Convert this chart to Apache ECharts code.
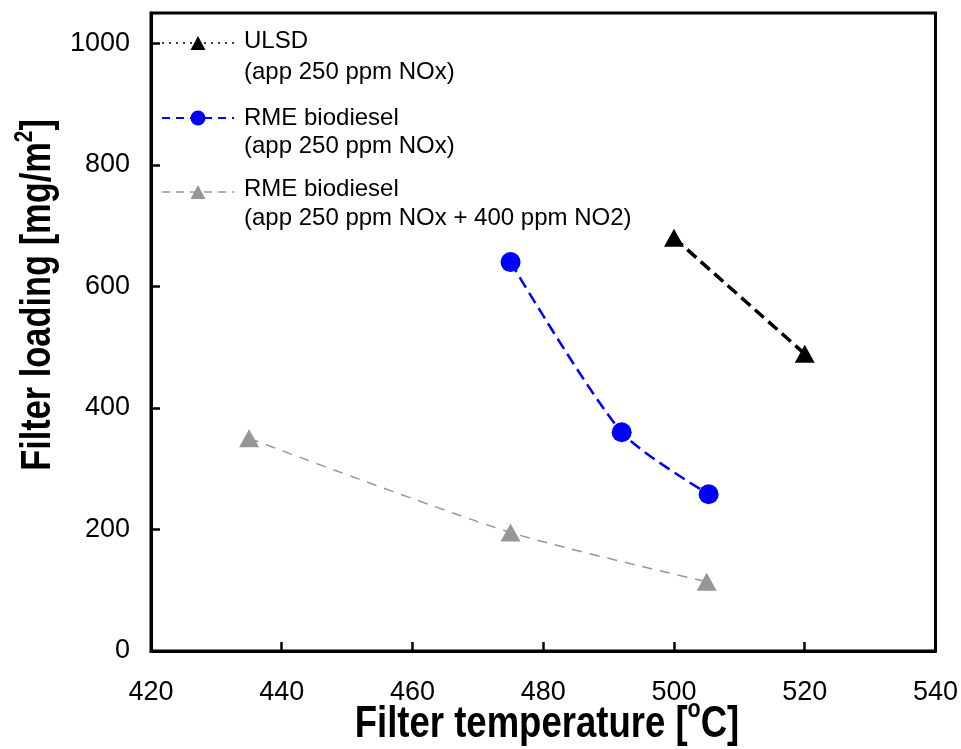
<!DOCTYPE html>
<html>
<head>
<meta charset="utf-8">
<script src="https://cdn.jsdelivr.net/npm/echarts@6/dist/echarts.min.js"></script>
<style>
html,body{margin:0;padding:0;background:#fff;}
#chart{width:961px;height:749px;}
</style>
</head>
<body>
<div id="chart"></div>
<script>
// Data
const ulsdX = [500, 520];
const ulsdY = [680, 489];
const rmeX = [475, 492, 505.3];
const rmeY = [640, 360, 258];
const rmeNo2X = [435, 475, 505];
const rmeNo2Y = [350, 195, 114];
const xTicks = [420, 440, 460, 480, 500, 520, 540];
const yTicks = [0, 200, 400, 600, 800, 1000];
const legendTitles = ['ULSD', 'RME biodiesel', 'RME biodiesel'];
const legendSubs = ['(app 250 ppm NOx)', '(app 250 ppm NOx)', '(app 250 ppm NOx + 400 ppm NO2)'];

function pairs(xs, ys) { return xs.map((x, i) => [x, ys[i]]); }

const FONT = '"Liberation Sans", Arial, sans-serif';

const chart = echarts.init(document.getElementById('chart'), null, {renderer: 'canvas'});

function tri(cx, cy, w, h, color) {
  return {
    type: 'polygon',
    shape: {points: [[cx, cy - h / 2], [cx + w / 2, cy + h / 2], [cx - w / 2, cy + h / 2]]},
    style: {fill: color}
  };
}

const legY = [43, 118, 192];
const legLine1 = [41.5, 118, 189.7];
const legLine2 = [72, 146, 218];
const legendGraphics = [];
const legColors = ['#000000', '#0000ff', '#969696'];
const legDash = [[2, 5], [8, 6], [8, 6]];
const legWidth = [1.5, 2, 1.5];
for (let i = 0; i < 3; i++) {
  legendGraphics.push({
    type: 'line',
    shape: {x1: 162, y1: legY[i], x2: 234, y2: legY[i]},
    style: {stroke: legColors[i], lineWidth: legWidth[i], lineDash: legDash[i]}
  });
  if (i === 1) {
    legendGraphics.push({type: 'circle', shape: {cx: 198, cy: legY[i], r: 7.5}, style: {fill: legColors[i]}});
  } else {
    legendGraphics.push(tri(198, legY[i], 15, 14, legColors[i]));
  }
  legendGraphics.push({
    type: 'text', x: 244, y: legLine1[i],
    style: {text: legendTitles[i], font: '24px ' + FONT, fill: '#000', verticalAlign: 'middle'}
  });
  legendGraphics.push({
    type: 'text', x: 244, y: legLine2[i],
    style: {text: legendSubs[i], font: '24px ' + FONT, fill: '#000', verticalAlign: 'middle'}
  });
}

const option = {
  animation: false,
  backgroundColor: '#fff',
  grid: {left: 151, right: 20, top: 13, bottom: 98, show: true, borderColor: '#000', borderWidth: 3, backgroundColor: 'transparent'},
  xAxis: {
    type: 'value', min: 420, max: 540, interval: 20,
    axisLine: {show: true, lineStyle: {color: '#000', width: 3}},
    axisTick: {show: true, inside: true, length: 9, lineStyle: {color: '#000', width: 2.5}},
    axisLabel: {color: '#000', fontSize: 27, fontFamily: FONT, margin: 28,
      formatter: v => xTicks.includes(v) ? String(v) : ''},
    splitLine: {show: false}
  },
  yAxis: {
    type: 'value', min: 0, max: 1050, interval: 200,
    axisLine: {show: true, lineStyle: {color: '#000', width: 3}},
    axisTick: {show: true, inside: true, length: 9, lineStyle: {color: '#000', width: 2.5}},
    axisLabel: {color: '#000', fontSize: 27, fontFamily: FONT, margin: 21, showMaxLabel: false,
      formatter: v => yTicks.includes(v) ? String(v) : ''},
    splitLine: {show: false}
  },
  series: [
    {
      type: 'line', name: 'ULSD', data: pairs(ulsdX, ulsdY), smooth: 0.2,
      symbol: 'triangle', symbolSize: [20, 18],
      itemStyle: {color: '#000'},
      lineStyle: {color: '#000', width: 3.5, type: [12, 6]}
    },
    {
      type: 'line', name: 'RME', data: pairs(rmeX, rmeY), smooth: 0.25,
      symbol: 'circle', symbolSize: 20,
      itemStyle: {color: '#0000ff'},
      lineStyle: {color: '#0000ff', width: 2.5, type: [12, 6]}
    },
    {
      type: 'line', name: 'RME NO2', data: pairs(rmeNo2X, rmeNo2Y), smooth: 0.25,
      symbol: 'triangle', symbolSize: [20, 18],
      itemStyle: {color: '#969696'},
      lineStyle: {color: '#969696', width: 1.5, type: [10, 8]}
    }
  ],
  graphic: legendGraphics.concat([
    {
      type: 'text', x: 547, y: 722, scaleX: 0.83,
      style: {
        text: '{a|Filter temperature [}{s|o}{a|C]}',
        align: 'center', verticalAlign: 'middle',
        rich: {
          a: {font: 'bold 44px ' + FONT, fill: '#000', lineHeight: 50, verticalAlign: 'bottom'},
          s: {font: 'bold 26px ' + FONT, fill: '#000', lineHeight: 50, verticalAlign: 'top'}
        }
      }
    },
    {
      type: 'text', x: 12, y: 295, rotation: Math.PI / 2, scaleX: 0.80,
      style: {
        text: '{a|Filter loading [mg/m}{s|2}{a|]}',
        align: 'center', verticalAlign: 'top',
        rich: {
          a: {font: 'bold 43px ' + FONT, fill: '#000', lineHeight: 48, verticalAlign: 'bottom'},
          s: {font: 'bold 26px ' + FONT, fill: '#000', lineHeight: 48, verticalAlign: 'top'}
        }
      }
    }
  ])
};
chart.setOption(option);
</script>
</body>
</html>
